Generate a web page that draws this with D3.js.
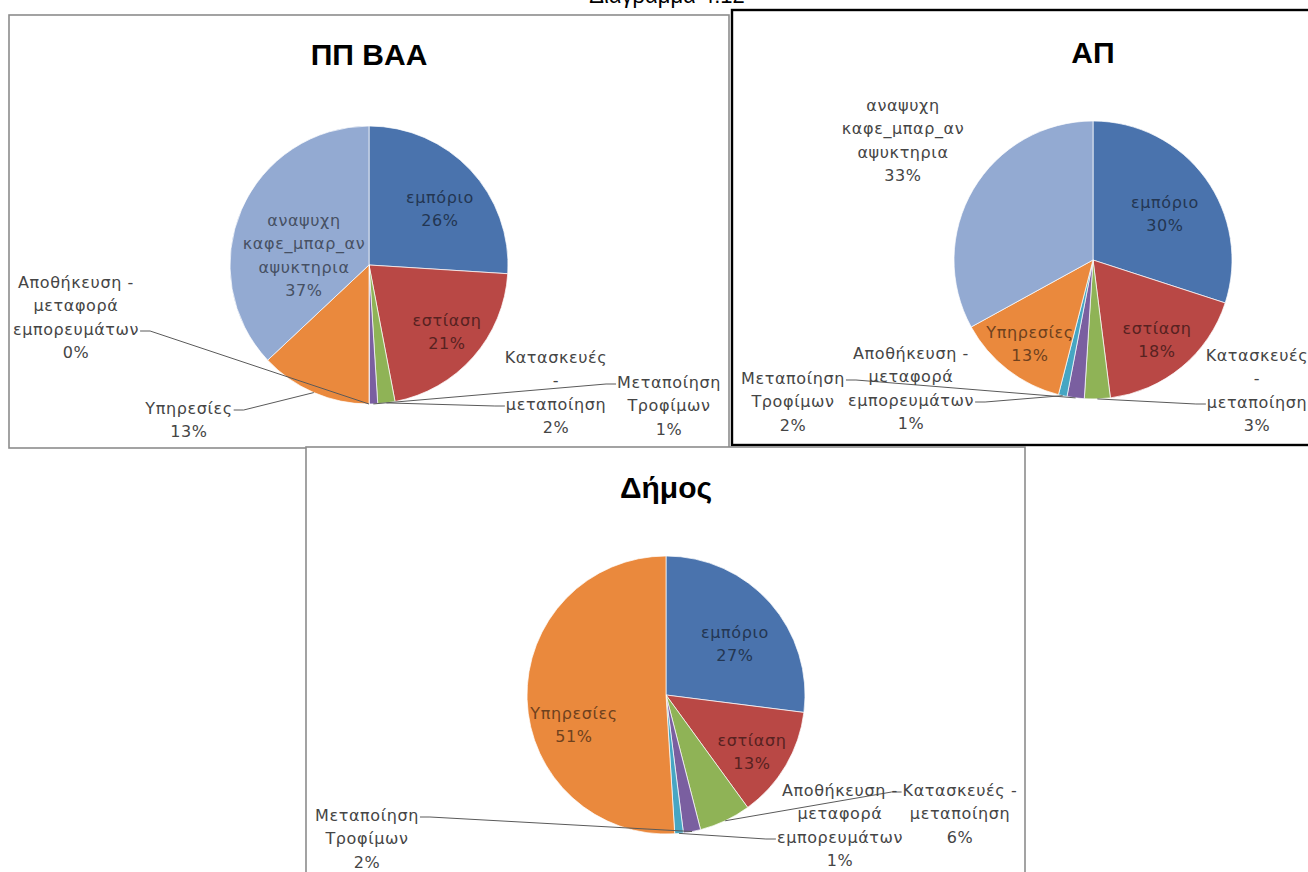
<!DOCTYPE html>
<html><head><meta charset="utf-8">
<script src="https://cdn.jsdelivr.net/npm/d3@7"></script>
<style>body{margin:0;background:#fff;} svg{display:block}</style>
</head><body>
<svg id="c" width="1308" height="872"></svg>
<script>
// ---- data ----
const pageTitle = "Διάγραμμα 4.12";
const chartTitles = ["ΠΠ ΒΑΑ", "ΑΠ", "Δήμος"];
const categories = [
  "εμπόριο",
  "εστίαση",
  "Κατασκευές - μεταποίηση",
  "Μεταποίηση Τροφίμων",
  "Αποθήκευση - μεταφορά εμπορευμάτων",
  "Υπηρεσίες",
  "αναψυχη καφε_μπαρ_αναψυκτηρια"
];
const colors = ["#4a73ad", "#b94845", "#8fb356", "#7a5fa0", "#46a6c3", "#ea893d", "#93aad2"];
const valuesPPBAA = [26, 21, 2, 1, 0, 13, 37];
const valuesAP    = [30, 18, 3, 2, 1, 13, 33];
const valuesDimos = [27, 13, 6, 2, 1, 51, null];

// ---- layout ----
const LH = 23.5;
const panels = [
  { title: chartTitles[0], values: valuesPPBAA,
    box: {x: 9, y: 15, w: 720, h: 433, stroke: "#8c8c8c", sw: 1.6},
    cx: 369, cy: 265, r: 139, titleY: 65,
    labels: {
      0: {dx: 71, dy: -68, wrap: 12, inside: true},
      1: {dx: 78, dy: 55, wrap: 12, inside: true},
      2: {dx: 187, dy: 92, wrap: 10, leader: {side: "left", line: 2}},
      3: {dx: 300, dy: 117, wrap: 10, leader: {side: "left", line: 0}},
      4: {dx: -293, dy: 17, wrap: 12, leader: {side: "right", line: 2}},
      5: {dx: -180, dy: 143, wrap: 12, leader: {side: "right", line: 0}},
      6: {dx: -65, dy: -45, wrap: 12, inside: true}
    }},
  { title: chartTitles[1], values: valuesAP,
    box: {x: 732, y: 10, w: 600, h: 435, stroke: "#000", sw: 2.4},
    cx: 1093, cy: 260, r: 139, titleY: 63,
    labels: {
      0: {dx: 72, dy: -58, wrap: 12, inside: true},
      1: {dx: 64, dy: 68, wrap: 12, inside: true},
      2: {dx: 164, dy: 95, wrap: 10, leader: {side: "left", line: 2}},
      3: {dx: -300, dy: 118, wrap: 10, leader: {side: "right", line: 0}},
      4: {dx: -182, dy: 93, wrap: 12, leader: {side: "right", line: 2}},
      5: {dx: -63, dy: 72, wrap: 12, inside: true},
      6: {dx: -190, dy: -155, wrap: 12}
    }},
  { title: chartTitles[2], values: valuesDimos,
    box: {x: 306, y: 447, w: 719, h: 440, stroke: "#8c8c8c", sw: 1.6},
    cx: 666, cy: 695, r: 139, titleY: 498,
    labels: {
      0: {dx: 69, dy: -63, wrap: 12, inside: true},
      1: {dx: 86, dy: 45, wrap: 12, inside: true},
      2: {dx: 294, dy: 95, wrap: 12, leader: {side: "left", line: 0}},
      3: {dx: -299, dy: 120, wrap: 10, leader: {side: "right", line: 0}},
      4: {dx: 174, dy: 95, wrap: 12, leader: {side: "left", line: 2}},
      5: {dx: -92, dy: 18, wrap: 12, inside: true}
    }}
];

function wrapText(str, max) {
  const words = str.split(" ");
  const lines = [];
  let cur = "";
  words.forEach(w => {
    const cand = cur ? cur + " " + w : w;
    if (cand.length <= max) { cur = cand; return; }
    if (cur) lines.push(cur);
    cur = w;
    while (cur.length > max) { lines.push(cur.slice(0, max)); cur = cur.slice(max); }
  });
  if (cur) lines.push(cur);
  return lines;
}

const svg = d3.select("#c");
const labelFont = "'DejaVu Sans', sans-serif";

svg.append("text").attr("x", 667).attr("y", 3)
  .attr("text-anchor", "middle").attr("font-family", "'Liberation Sans', Arial, sans-serif")
  .attr("font-size", 22).attr("fill", "#000").text(pageTitle);

panels.forEach(p => {
  const g = svg.append("g");
  g.append("rect").attr("x", p.box.x).attr("y", p.box.y).attr("width", p.box.w).attr("height", p.box.h)
    .attr("fill", "#fff").attr("stroke", p.box.stroke).attr("stroke-width", p.box.sw);

  g.append("text").attr("x", p.cx).attr("y", p.titleY).attr("text-anchor", "middle")
    .attr("font-family", "'Liberation Sans', Arial, sans-serif").attr("font-weight", "bold")
    .attr("font-size", 30).attr("fill", "#000").text(p.title);

  const data = categories.map((c, i) => ({cat: c, i, v: p.values[i]})).filter(d => d.v !== null);
  const pie = d3.pie().sort(null).value(d => d.v);
  const arcs = pie(data);
  const arc = d3.arc().innerRadius(0).outerRadius(p.r);
  const edge = d3.arc().innerRadius(p.r).outerRadius(p.r);

  const pg = g.append("g").attr("transform", `translate(${p.cx},${p.cy})`);
  pg.selectAll("path").data(arcs).join("path")
    .attr("d", arc).attr("fill", d => colors[d.data.i])
    .attr("stroke", "#fff").attr("stroke-width", 0.7);

  const lg = g.append("g");
  arcs.forEach(a => {
    const cfg = p.labels[a.data.i];
    if (!cfg) return;
    const lines = wrapText(a.data.cat, cfg.wrap).concat([a.data.v + "%"]);
    const x = p.cx + cfg.dx, y0 = p.cy + cfg.dy;
    const fill = cfg.inside ? d3.color(colors[a.data.i]).darker(2.1).formatHex() : "#454545";
    const nodes = lines.map((t, k) => lg.append("text")
      .attr("x", x).attr("y", y0 + k * LH).attr("dy", "0.36em")
      .attr("text-anchor", "middle").attr("font-family", labelFont)
      .attr("font-size", 16).attr("letter-spacing", 0.6)
      .attr("fill", fill).text(t));
    if (cfg.leader) {
      const k = cfg.leader.line;
      const w = nodes[k].node().getComputedTextLength();
      const ly = y0 + k * LH + 2;
      const sgn = cfg.leader.side === "right" ? 1 : -1;
      const xe = x + sgn * (w / 2 + 1);
      const xs = xe + sgn * 10;
      const [ax, ay] = edge.centroid(a);
      lg.append("path")
        .attr("d", d3.line()([[xe, ly], [xs, ly], [p.cx + ax, p.cy + ay]]))
        .attr("fill", "none").attr("stroke", "#5a5a5a").attr("stroke-width", 1);
    }
  });
});
</script>
</body></html>
